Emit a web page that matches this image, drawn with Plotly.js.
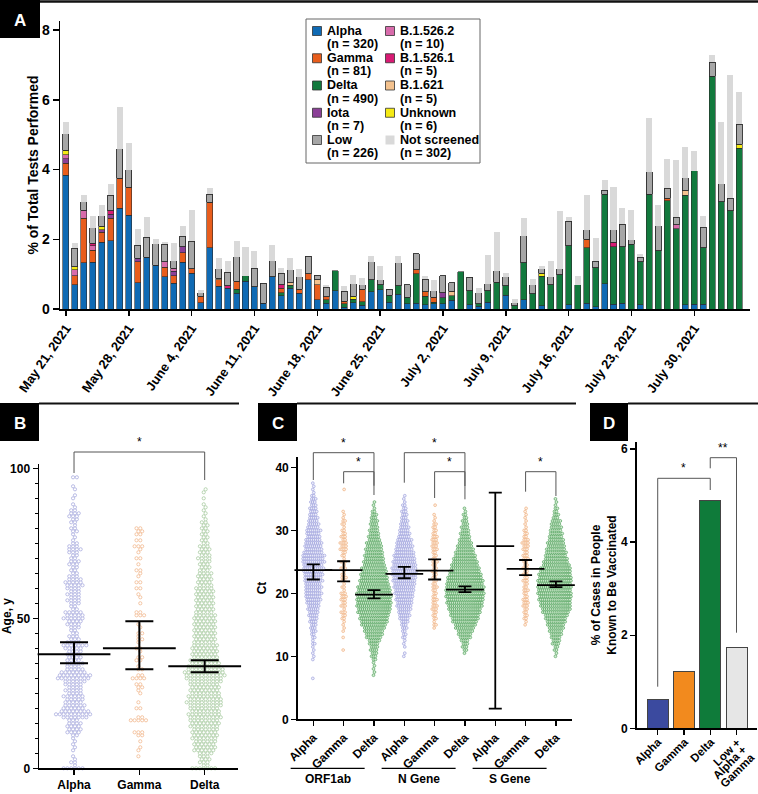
<!DOCTYPE html>
<html><head><meta charset="utf-8">
<script src="https://cdn.plot.ly/plotly-3.0.1.min.js"></script>
<style>html,body{margin:0;padding:0;background:#fff}</style>
</head><body><div id="chart" style="width:758px;height:794px"></div>
<script>
// ---------------- Panel A data ----------------
const dates = ['2021-05-21','2021-05-22','2021-05-23','2021-05-24','2021-05-25','2021-05-26','2021-05-27','2021-05-28','2021-05-29','2021-05-30','2021-05-31',
'2021-06-01','2021-06-02','2021-06-03','2021-06-04','2021-06-05','2021-06-06','2021-06-07','2021-06-08','2021-06-09','2021-06-10','2021-06-11','2021-06-12','2021-06-13','2021-06-14','2021-06-15','2021-06-16','2021-06-17','2021-06-18','2021-06-19','2021-06-20','2021-06-21','2021-06-22','2021-06-23','2021-06-24','2021-06-25','2021-06-26','2021-06-27','2021-06-28','2021-06-29','2021-06-30',
'2021-07-01','2021-07-02','2021-07-03','2021-07-04','2021-07-05','2021-07-06','2021-07-07','2021-07-08','2021-07-09','2021-07-10','2021-07-11','2021-07-12','2021-07-13','2021-07-14','2021-07-15','2021-07-16','2021-07-17','2021-07-18','2021-07-19','2021-07-20','2021-07-21','2021-07-22','2021-07-23','2021-07-24','2021-07-25','2021-07-26','2021-07-27','2021-07-28','2021-07-29','2021-07-30','2021-07-31',
'2021-08-01','2021-08-02','2021-08-03','2021-08-04'];
const alphaPct = [3.83,0.69,1.32,1.34,1.92,1.96,2.89,2.69,0.76,1.48, 1.25,0.92,0.74,1.34,1.03,0.18,1.75,0.65,0.59,0.45, 0.80,0.64,0.16,0.92,0.38,0.59,0.45,0.84,0.27,0.17, 0.53,0.05,0.18,0.11,0.49,0.55,0.20,0.43,0.15,0.17, 0.12,0.15,0.15,0.25,0,0.12,0.08,0.20,0,0.39, 0,0.27,0,0.10,0,0,0.12,0,0.17,0.06, 0.72,0.14,0.16,0,0.12,0,0,0,0,0.12, 0.14,0.14,0,0,0,0];
const deltaPct = [0,0,0,0,0,0,0,0,0,0, 0,0,0,0,0,0,0,0,0,0.12, 0.16,0,0,0,0.08,0.09,0,0,0,0.10, 0.57,0.10,0.10,0.10,0.35,0.15,0.19,0.24,0.18,0.84, 0.24,0.04,0.17,0.13,1.07,0.41,0.07,0.33,0.77,0.28, 0.09,1.05,0.44,0.84,0.70,0.98,1.69,0.70,1.58,1.13, 2.57,1.65,1.63,1.86,1.23,3.29,1.67,3.10,2.30,3.14, 3.83,1.61,6.68,3.08,2.82,4.61];
const gammaPct = [0.35,0.26,1.29,0.34,0.28,0.65,0.86,0.80,0.59,0, 0,0.28,0.21,0.28,0.13,0.18,1.31,0.19,0,0.23, 0,0,0,0,0.14,0,0.12,0.17,0.42,0.08, 0,0.07,0,0.35,0,0,0,0,0,0.12, 0.13,0.14,0,0,0,0,0,0,0,0, 0,0,0,0,0,0,0,0,0.25,0, 0,0,0,0,0,0,0,0.08,0,0, 0,0,0,0,0,0];
const iotaPct = [0.13,0,0,0,0.07,0.11,0,0,0.10,0, 0,0,0.13,0.16,0,0,0,0,0,0, 0,0,0,0,0,0,0,0,0,0, 0,0,0,0,0,0,0,0,0,0, 0,0,0.14,0,0,0,0,0,0,0, 0,0,0,0,0,0,0,0,0,0, 0,0,0,0,0,0,0,0,0,0, 0,0,0,0,0,0];
const b15262Pct = [0.12,0.17,0.22,0.13,0,0,0,0,0,0, 0,0.16,0.09,0,0,0,0,0,0,0, 0,0,0,0,0,0,0,0,0,0, 0,0,0,0,0,0,0,0,0,0, 0,0,0,0,0,0,0,0,0,0, 0,0,0,0,0,0,0,0,0,0, 0,0,0,0,0,0,0,0,0.12,0, 0,0,0,0,0,0];
const b15261Pct = [0,0,0,0.07,0,0.10,0,0,0,0, 0,0,0,0,0,0,0,0,0.08,0, 0,0,0,0,0.10,0,0,0,0,0, 0,0,0,0,0,0,0,0,0,0, 0,0,0,0,0,0,0,0,0,0, 0,0,0,0,0,0,0,0,0,0, 0,0.13,0,0,0,0,0,0,0,0, 0,0,0,0,0,0];
const b1621Pct = [0,0,0,0,0,0,0,0,0,0, 0,0,0,0,0,0,0,0.04,0,0, 0,0,0,0,0,0.08,0,0,0.15,0, 0,0,0,0,0,0,0,0,0,0, 0,0,0,0.13,0,0,0,0,0,0, 0,0,0,0,0,0,0,0,0,0, 0,0,0,0,0,0,0,0,0,0.13, 0,0,0,0,0,0];
const unknownPct = [0.13,0.09,0,0,0.10,0,0,0,0,0, 0,0,0,0,0,0,0,0,0,0, 0,0,0,0,0,0,0,0,0,0, 0,0,0.08,0,0,0,0,0,0,0, 0,0,0,0,0,0,0,0,0,0, 0,0,0,0.09,0,0,0,0,0,0, 0,0,0,0,0,0,0,0,0,0, 0,0,0,0,0,0.12];
const lowPct = [0.46,0.53,0.24,0.45,0.31,0.44,0.84,0.50,0.38,0.58, 0.62,0.50,0.21,0.31,0.78,0.10,0.23,0.28,0.38,0.70, 0,0.53,0.58,0.47,0.33,0.37,0.36,0.51,0.13,0.27, 0,0.29,0.36,0.13,0.51,0.14,0.18,0.65,0.37,0.45, 0.37,0.19,0.49,0.25,0,0.38,0.31,0.20,0.33,0.26, 0.09,0.78,0.26,0.12,0.23,0.18,0.70,0,0.27,0.18, 0.11,0.35,0.64,0.13,0.13,0.65,0.72,0.29,0.21,0.38, 0,0.60,0.39,0.51,0.36,0.57];
const notScreenedPct = [0.35,0.14,0.20,0.34,0.30,0.32,1.20,0.76,0.47,0.59, 0.14,0.06,0.51,0.28,0.89,0.09,0.19,0.29,0.33,0.46, 0.81,0.50,0,0.45,0.16,0.33,0.23,0,0,0.08, 0,0.16,0.25,0.19,0.16,0.38,0,0.21,0,0, 0.10,0.32,0,0,0,0,0.14,0.83,1.10,0.10, 0.10,0.51,0.16,0.07,0.44,1.64,0.12,0.24,1.00,0.66, 0.30,1.22,0.48,0.85,0.10,1.55,0.59,0.83,1.65,0.88, 0.55,0.33,0.21,1.78,3.54,0.91];
const seriesNames = ['Alpha','Delta','Gamma','Iota','B.1.526.2','B.1.526.1','B.1.621','Unknown','Low','Not screened'];
const seriesCounts = [320,490,81,7,10,5,5,6,226,302];
const legendOrder = ['Alpha','Gamma','Delta','Iota','Low','B.1.526.2','B.1.526.1','B.1.621','Unknown','Not screened'];

// ---------------- Panel B data (count of people at each age, from age 0) ----------------
const ageGroups = ['Alpha','Gamma','Delta'];
const ageAlphaCounts = [6,1,2,1,1,0,1,1,1,1, 1,2,4,4,4,4,3,7,10,8, 6,6,5,5,6,4,5,4,5,6, 9,9,7,5,4,5,4,4,4,4, 5,7,4,3,3,2,2,3,4,4, 6,5,5,2,2,3,4,3,4,3, 4,5,5,4,3,2,2,2,3,3, 2,2,3,4,3,2,1,1,1,2, 2,1,2,2,3,3,2,1,1,0, 1,1,0,1,1,0,0,2];
const ageGammaCounts = [0,0,0,0,1,0,1,1,0,1, 0,2,3,0,0,0,5,2,0,0, 2,0,1,0,0,1,1,2,2,0, 4,2,0,2,1,0,2,2,0,1, 2,0,1,2,1,2,0,1,1,0, 0,3,2,0,0,1,0,1,1,0, 2,0,2,0,1,1,2,0,1,0, 2,0,1,1,3,0,2,0,2,2, 2];
const ageDeltaCounts = [7,2,3,3,3,4,6,6,6,6, 7,7,7,7,8,8,8,9,9,8, 8,9,10,9,9,8,8,8,8,9, 10,11,11,10,9,8,8,7,7,7, 7,7,6,6,6,6,6,6,6,6, 6,6,5,5,5,5,5,5,5,5, 5,4,4,4,4,4,3,3,3,3, 4,3,3,3,3,2,2,2,2,2, 2,2,2,1,1,1,1,1,1,0, 1,0,1,1];
const ageMean = [38, 40, 34];
const ageCiLow = [35, 33, 32];
const ageCiHigh = [42, 49, 36];

// ---------------- Panel C data (counts per 0.5 Ct bin, with first bin value) ----------------
const ctLabels = ['Alpha','Gamma','Delta','Alpha','Gamma','Delta','Alpha','Gamma','Delta'];
const geneGroups = ['ORF1ab','N Gene','S Gene'];
const ctOrfAlphaStart = 6.5;
const ctOrfAlphaCounts = [1,0,0,0,0,0,1,1,1,1,1, 2,1,2,2,3,3,3,4,4,5, 5,6,6,7,8,8,9,8,9,8, 10,9,10,10,11,10,12,11,12,10, 9,9,9,8,7,7,8,6,6,5, 5,4,4,4,3,3,3,2,1,1,1,1];
const ctOrfGammaStart = 11;
const ctOrfGammaCounts = [1,0,0,0,1,0,1,1,1,1, 2,2,3,1,3,2,3,3,3,1, 2,1,2,3,2,1,3,1,3,1, 2,2,4,3,4,2,3,2,2,1, 2,2,1,1,1,0,0,0,0,0,0,1,0];
const ctOrfDeltaStart = 7;
const ctOrfDeltaCounts = [1,1,1,1,1,2,3,3,4,4, 5,6,8,9,10,11,13,14,15,15, 17,17,18,18,18,18,18,17,17,15, 15,14,14,13,13,11,11,10,10,9, 9,8,8,6,6,5,5,4,4,4, 3,3,2,1,1,1];
const ctNAlphaStart = 10;
const ctNAlphaCounts = [1,1,0,1,1,1,2,2,2,3, 3,4,5,6,6,7,8,8,9,9, 10,10,11,11,12,12,13,13,13,12, 12,11,11,10,9,9,8,8,6,6, 5,5,4,4,3,3,3,2,2,1,1,1];
const ctNGammaStart = 14.5;
const ctNGammaCounts = [1,2,1,2,2,2,3,3,2,3, 2,2,2,3,2,2,2,2,3,2, 2,3,2,2,2,3,3,3,3,3, 2,2,2,2,1,1,1,0,0,1];
const ctNDeltaStart = 10.5;
const ctNDeltaCounts = [1,2,3,3,4,6,7,8,10,11, 13,14,15,16,17,18,19,19,20,20, 20,20,19,19,18,17,16,15,14,13, 12,11,10,9,8,7,6,5,5,4, 4,3,3,2,2,1,1];
const ctSGammaStart = 15;
const ctSGammaCounts = [1,1,2,2,2,2,3,3,3,2, 2,3,2,2,3,2,3,2,3,2, 2,3,3,2,3,3,4,3,2,2, 2,1,1,1,1,1,1,1];
const ctSDeltaStart = 10;
const ctSDeltaCounts = [1,1,2,2,4,4,5,6,7,8, 9,10,11,12,14,15,16,17,18,18, 19,19,19,19,19,18,18,17,16,14, 13,12,11,11,10,9,9,8,7,7, 6,6,5,5,3,3,2,2,1,1,1];
const ctMean = [23.7, 23.7, 19.8, 23.1, 23.6, 20.6, 27.5, 23.9, 21.3];
const ctCiLow = [22.2, 21.9, 19.2, 22.4, 22.2, 20.2, 1.7, 22.9, 21.0];
const ctCiHigh = [24.6, 25.1, 20.5, 24.2, 25.4, 21.1, 36.0, 25.3, 21.9];

// ---------------- Panel D data ----------------
const vaxLabels = ['Alpha','Gamma','Delta','Low +<br>Alpha +<br>Gamma'];
const vaxPct = [0.62, 1.22, 4.89, 1.74];

// ================= drawing =================
const W = 758, H = 794;
const P = x => x / W;
const Q = y => 1 - y / H;
const FONT = 'Liberation Sans, Arial, Helvetica, sans-serif';

const colorsA = ['#0f6ab4','#12793d','#e85d1c','#8b3f97','#d86bab','#d81b74','#f4c28e','#f5ea14','#a6a6a6','#d9d9d9'];
const seriesData = [alphaPct, deltaPct, gammaPct, iotaPct, b15262Pct, b15261Pct, b1621Pct, unknownPct, lowPct, notScreenedPct];

const traces = [];
seriesData.forEach((arr, i) => {
  traces.push({
    type: 'bar', x: dates, y: arr.map(v => v > 0 ? v : null), name: seriesNames[i],
    xaxis: 'x', yaxis: 'y', showlegend: false,
    marker: { color: colorsA[i], line: { color: i === 9 ? 'rgba(0,0,0,0)' : '#2b2b2b', width: i === 9 ? 0 : (i === 8 ? 0.9 : 0.6) } }
  });
});

// axis geometry (pixels -> paper)
const axB = { dom: [P(39), P(238)], range: [-0.536, 2.51] };
const axC = { dom: [P(297.7), P(571.7)], range: [-0.515, 8.52] };
const axD = { dom: [P(636.7), P(757)], range: [-0.8, 3.78] };
const xPaper = (ax, v) => ax.dom[0] + (v - ax.range[0]) / (ax.range[1] - ax.range[0]) * (ax.dom[1] - ax.dom[0]);

// swarm helper: lays out equal values side by side (alternate rows staggered)
function swarm(center, start, step, counts, spacing) {
  const xs = [], ys = [];
  counts.forEach((c, j) => {
    const v = start + j * step;
    const shift = (j % 2) ? spacing * 0.25 : -spacing * 0.25;
    for (let k = 0; k < c; k++) { xs.push(center + shift + (k - (c - 1) / 2) * spacing); ys.push(v); }
  });
  return { xs, ys };
}

// Panel B swarms
const bLine = ['#a9acde','#f1b98f','#a9cba2'];
[ageAlphaCounts, ageGammaCounts, ageDeltaCounts].forEach((counts, g) => {
  const s = swarm(g, 0, 1, counts, 0.058);
  traces.push({ type: 'scatter', mode: 'markers', x: s.xs, y: s.ys, xaxis: 'x2', yaxis: 'y2', showlegend: false, cliponaxis: false,
    marker: { size: 3.2, color: '#ffffff', line: { color: bLine[g], width: 0.8 } } });
});
traces.push({ type: 'scatter', mode: 'markers', x: [0,1,2], y: ageMean, xaxis: 'x2', yaxis: 'y2', showlegend: false, cliponaxis: false,
  marker: { symbol: 'line-ew', size: 52, color: '#000', line: { color: '#000', width: 2 } },
  error_y: { type: 'data', symmetric: false, array: ageCiHigh.map((h, i) => h - ageMean[i]), arrayminus: ageCiLow.map((l, i) => ageMean[i] - l), color: '#000', thickness: 2, width: 14 } });

// Panel C swarms
const cFill = ['#eeeffa','#fdf0e4','#d5ecd4'];
const cLine = ['#9296d8','#eda670','#3f994b'];
const cGroups = [
  [0, ctOrfAlphaStart, ctOrfAlphaCounts], [1, ctOrfGammaStart, ctOrfGammaCounts], [2, ctOrfDeltaStart, ctOrfDeltaCounts],
  [3, ctNAlphaStart, ctNAlphaCounts], [4, ctNGammaStart, ctNGammaCounts], [5, ctNDeltaStart, ctNDeltaCounts],
  [7, ctSGammaStart, ctSGammaCounts], [8, ctSDeltaStart, ctSDeltaCounts]
];
cGroups.forEach(([pos, start, counts]) => {
  const s = swarm(pos, start, 0.5, counts, 0.064);
  const v = pos % 3;
  traces.push({ type: 'scatter', mode: 'markers', x: s.xs, y: s.ys, xaxis: 'x3', yaxis: 'y3', showlegend: false, cliponaxis: false,
    marker: { size: 2.8, color: cFill[v], line: { color: cLine[v], width: 0.6 } } });
});
traces.push({ type: 'scatter', mode: 'markers', x: ctMean.map((_, i) => i), y: ctMean, xaxis: 'x3', yaxis: 'y3', showlegend: false, cliponaxis: false,
  marker: { symbol: 'line-ew', size: 27, color: '#000', line: { color: '#000', width: 1.8 } },
  error_y: { type: 'data', symmetric: false, array: ctCiHigh.map((h, i) => h - ctMean[i]), arrayminus: ctCiLow.map((l, i) => ctMean[i] - l), color: '#000', thickness: 1.8, width: 6.5 } });

// Panel D bars
traces.push({ type: 'bar', x: [0,1,2,3], y: vaxPct, xaxis: 'x4', yaxis: 'y4', showlegend: false, width: 0.8,
  marker: { color: ['#3b4a9f','#f28a1e','#0f7b3a','#e6e6e6'], line: { color: '#444', width: 1 } } });

// ---------------- layout pieces ----------------
const shapes = [], annotations = [];
const tf = (size, color) => ({ family: FONT, size: size, color: color || '#000', weight: 'bold' });

// panel header boxes and rules
const headers = [
  { L: 'A', box: [0, 40, 0, 38], rule: [40, 758, 1.5], w: 2.5 },
  { L: 'B', box: [0, 39, 403, 441], rule: [39, 239, 403.5], w: 2 },
  { L: 'C', box: [258, 297, 403, 441], rule: [297, 576, 403.5], w: 2 },
  { L: 'D', box: [590, 628, 403, 441], rule: [628, 758, 403.5], w: 2 }
];
headers.forEach(h => {
  shapes.push({ type: 'rect', xref: 'paper', yref: 'paper', x0: P(h.box[0]), x1: P(h.box[1]), y0: Q(h.box[3]), y1: Q(h.box[2]), fillcolor: '#000', line: { width: 0 } });
  shapes.push({ type: 'line', xref: 'paper', yref: 'paper', x0: P(h.rule[0]), x1: P(h.rule[1]), y0: Q(h.rule[2]), y1: Q(h.rule[2]), line: { color: '#111', width: h.w } });
  annotations.push({ xref: 'paper', yref: 'paper', x: P((h.box[0] + h.box[1]) / 2), y: Q((h.box[2] + h.box[3]) / 2 + 1), text: h.L, showarrow: false, font: tf(17, '#fff'), xanchor: 'center', yanchor: 'middle' });
});

// Panel A legend (two columns, drawn from the series names / counts / colours)
shapes.push({ type: 'rect', xref: 'paper', yref: 'paper', x0: P(306), x1: P(480), y0: Q(163), y1: Q(19), fillcolor: '#fff', line: { color: '#666', width: 1 } });
legendOrder.forEach((nm, idx) => {
  const si = seriesNames.indexOf(nm);
  const col = idx < 5 ? 0 : 1, row = idx % 5;
  const sx = col === 0 ? 312.5 : 385.5, tx = col === 0 ? 325 : 398;
  const y1 = 31 + row * 27.25;
  shapes.push({ type: 'rect', xref: 'paper', yref: 'paper', x0: P(sx), x1: P(sx + 9), y0: Q(y1 + 4.5), y1: Q(y1 - 4.5), fillcolor: colorsA[si],
    line: { color: si === 9 ? colorsA[si] : '#333', width: si === 9 ? 0 : 0.8 } });
  annotations.push({ xref: 'paper', yref: 'paper', x: P(tx), y: Q(y1), text: nm, showarrow: false, xanchor: 'left', yanchor: 'middle', font: tf(12.5) });
  annotations.push({ xref: 'paper', yref: 'paper', x: P(tx), y: Q(y1 + 13), text: '(n = ' + seriesCounts[si] + ')', showarrow: false, xanchor: 'left', yanchor: 'middle', font: tf(12.5) });
});

// significance brackets: [axis, xA, xB, topPx, legAPx, legBPx, label]
const brackets = [
  [axB, 0, 2, 452, 473, 480, '*'],
  [axC, 0, 2, 452.7, 480, 485.7, '*'],
  [axC, 1, 2, 471.7, 483.3, 495, '*'],
  [axC, 3, 5, 452.7, 482.7, 486, '*'],
  [axC, 4, 5, 471.7, 498, 499.3, '*'],
  [axC, 7, 8, 471.7, 491.7, 496, '*'],
  [axD, 0, 2, 478.3, 686.7, 490, '*'],
  [axD, 2, 3, 457.7, 468.3, 632.7, '**']
];
brackets.forEach(([ax, a, b, top, la, lb, lab]) => {
  const xa = xPaper(ax, a), xb = xPaper(ax, b);
  shapes.push({ type: 'path', xref: 'paper', yref: 'paper', path: `M${xa},${Q(la)} L${xa},${Q(top)} L${xb},${Q(top)} L${xb},${Q(lb)}`, line: { color: '#555', width: 1 } });
  annotations.push({ xref: 'paper', yref: 'paper', x: (xa + xb) / 2, y: Q(top - 1), text: lab, showarrow: false, xanchor: 'center', yanchor: 'bottom', font: { family: FONT, size: 12, color: '#000' } });
});

// Panel C gene group lines and labels
geneGroups.forEach((g, i) => {
  const c = xPaper(axC, 3 * i + 1) * W - 16;
  shapes.push({ type: 'line', xref: 'paper', yref: 'paper', x0: P(c - 37), x1: P(c + 37), y0: Q(768.3), y1: Q(768.3), line: { color: '#000', width: 1.2 } });
  annotations.push({ xref: 'paper', yref: 'paper', x: P(c), y: Q(779), text: g, showarrow: false, xanchor: 'center', yanchor: 'middle', font: tf(12) });
});

// Panel D category labels (rotated 45°, multi-line label stacked like the reference)
const measureCtx = document.createElement('canvas').getContext('2d');
measureCtx.font = 'bold 11.5px "Liberation Sans", Arial, sans-serif';
vaxLabels.forEach((lab, i) => {
  const tickX = xPaper(axD, i) * W;
  lab.split('<br>').forEach((line, k) => {
    const L = measureCtx.measureText(line).width;
    const ex = tickX + 2 - (k ? 1 : 0) + 7.6 * k, ey = 740 + 7.6 * k;   // end point (mid-height) of this line
    const cx = ex - 0.354 * L, cy = ey + 0.354 * L;      // centre of the rotated line
    annotations.push({ xref: 'paper', yref: 'paper', x: P(cx), y: Q(cy), text: line, textangle: -45, showarrow: false,
      xanchor: 'center', yanchor: 'middle', font: tf(11.5), borderpad: 0 });
  });
});

const baseAxis = { showline: true, linecolor: '#000', linewidth: 1.5, ticks: 'outside', tickcolor: '#000', tickwidth: 1.5, ticklen: 5, showgrid: false, zeroline: false, fixedrange: true, ticklabeloverflow: 'allow' };

const layout = {
  width: W, height: H, margin: { l: 0, r: 0, t: 0, b: 0 }, paper_bgcolor: '#fff', plot_bgcolor: 'rgba(0,0,0,0)',
  font: { family: FONT, color: '#000' }, showlegend: false, barmode: 'stack', bargap: 0.33, hovermode: false,
  xaxis: Object.assign({}, baseAxis, { domain: [P(60), P(750)], anchor: 'y', type: 'date', range: ['2021-05-20 08:00', '2021-08-05 05:00'],
    tickmode: 'linear', tick0: '2021-05-21', dtick: 7 * 86400000, tickformat: '%B %-d, %Y', tickangle: -55, tickfont: tf(13) }),
  yaxis: Object.assign({}, baseAxis, { domain: [Q(309), Q(21)], anchor: 'x', range: [0, 8.26], dtick: 2, ticklen: 6, tickfont: tf(14),
    title: { text: '% of Total Tests Performed', font: tf(14), standoff: 0 } }),
  xaxis2: Object.assign({}, baseAxis, { domain: axB.dom, anchor: 'y2', range: axB.range, tickmode: 'array', tickvals: [0,1,2], ticktext: ageGroups, tickfont: tf(12) }),
  yaxis2: Object.assign({}, baseAxis, { domain: [Q(768.3), Q(463.8)], anchor: 'x2', range: [0, 101.5], tickmode: 'array', tickvals: [0,50,100], tickfont: tf(12),
    minor: { dtick: 5, tick0: 0, ticks: 'outside', ticklen: 3, tickcolor: '#000', tickwidth: 1 },
    title: { text: 'Age, y', font: tf(12), standoff: 0 } }),
  xaxis3: Object.assign({}, baseAxis, { domain: axC.dom, anchor: 'y3', range: axC.range, tickmode: 'array', tickvals: ctLabels.map((_, i) => i), ticktext: ctLabels, tickangle: -45, tickfont: tf(12) }),
  yaxis3: Object.assign({}, baseAxis, { domain: [Q(719.3), Q(456.7)], anchor: 'x3', range: [0, 41.7], dtick: 10, tickfont: tf(12),
    title: { text: 'Ct', font: tf(12), standoff: 6 } }),
  xaxis4: Object.assign({}, baseAxis, { domain: axD.dom, anchor: 'y4', range: axD.range, tickmode: 'array', tickvals: [0,1,2,3], showticklabels: false }),
  yaxis4: Object.assign({}, baseAxis, { domain: [Q(728.3), Q(441.7)], anchor: 'x4', range: [0, 6.16], dtick: 2, tickfont: tf(12),
    title: { text: '% of Cases in People<br>Known to Be Vaccinated', font: tf(12), standoff: 2 } }),
  shapes: shapes, annotations: annotations
};

Plotly.newPlot('chart', traces, layout, { displayModeBar: false, staticPlot: true });
</script>
</body></html>
